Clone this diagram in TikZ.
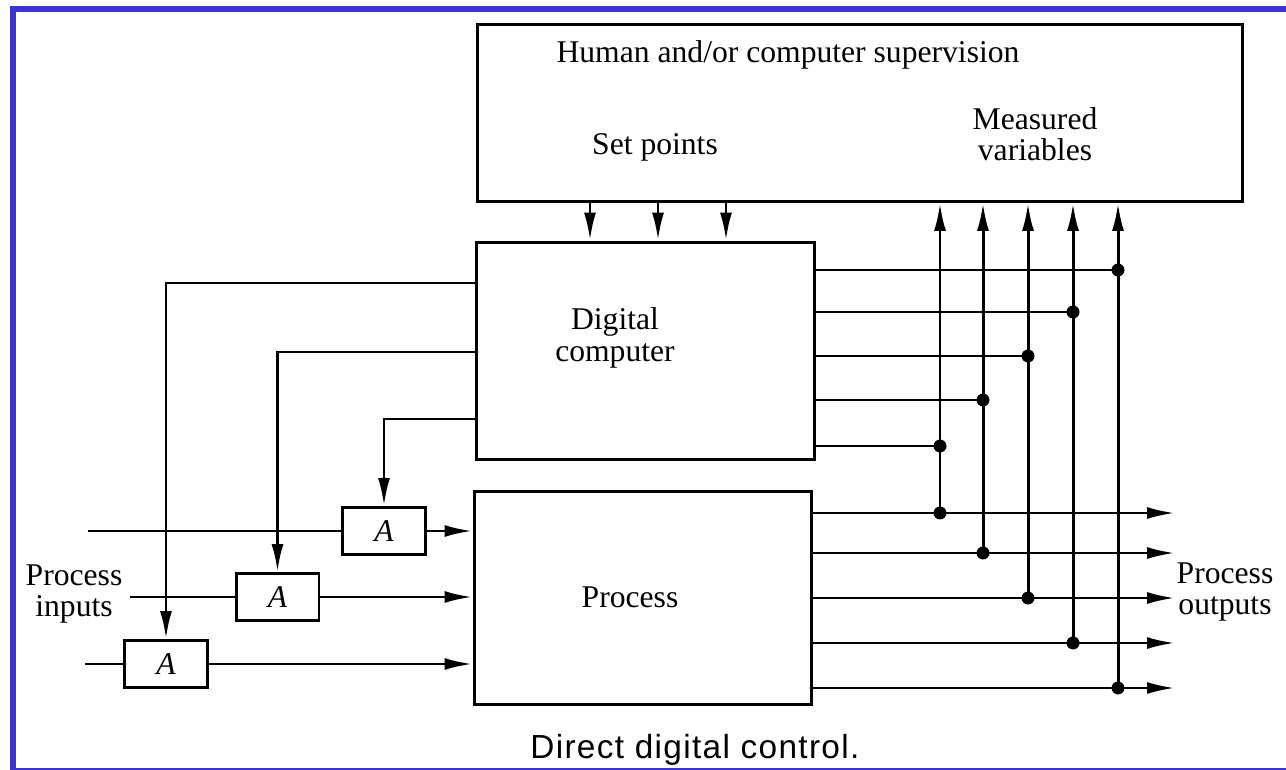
\documentclass[tikz,border=0pt]{standalone}
\usepackage{fontspec}
\setmainfont{Liberation Serif}
\newfontfamily\capfont[LetterSpace=4]{Liberation Sans}
\usetikzlibrary{arrows.meta}
\definecolor{frameblue}{RGB}{58,52,208}

\begin{document}
\begin{tikzpicture}[x=0.02cm,y=-0.02cm,
	block/.style={rectangle,draw,line width=1.7pt,inner sep=0pt},
	abox/.style={rectangle,draw,line width=1.7pt,minimum width=1.66cm,minimum height=0.94cm,inner sep=0pt,font=\fontsize{18}{19}\selectfont\itshape},
	txt/.style={font=\fontsize{18}{18}\selectfont,align=center,inner sep=0pt},
	wire/.style={line width=1.7pt},
	arr/.style={line width=1.7pt,-{Latex[length=0.56cm,width=0.24cm]}},
	dot/.style={circle,fill,inner sep=0pt,minimum size=0.26cm}
	]
	\useasboundingbox (0,0) rectangle (1286,770);
	\draw[frameblue,line width=0.12cm,line join=miter] (1290,9) -- (13,9) -- (13,772);
	\draw[frameblue,line width=0.06cm] (10,769) -- (1290,769);

	\node[block,minimum width=15.32cm,minimum height=3.54cm] (sup) at (860,113) {};
	\node[block,minimum width=6.78cm,minimum height=4.36cm] (comp) at (645.5,351) {};
	\node[block,minimum width=6.76cm,minimum height=4.28cm] (proc) at (643,598) {};

	\node[txt] (suplabel) at (788,55) {Human and/or computer supervision};
	\node[txt] (setpts) at (655,147) {Set points};
	\node[txt] (measvar) at (1035,134) {Measured\\variables};
	\node[txt] (complabel) at (615,338) {Digital\\computer};
	\node[txt] (proclabel) at (630,597) {Process};
	\node[txt] (inlabel) at (74,594) {Process\\inputs};
	\node[txt] (outlabel) at (1225,592) {Process\\outputs};
	\node[anchor=base west,inner sep=0pt,font=\capfont\fontsize{19}{19}\selectfont] (caption) at (530,758) {Direct digital control.};

	\node[abox] (a1) at (384,531) {A};
	\node[abox] (a2) at (277.5,597) {A};
	\node[abox] (a3) at (166,664) {A};

	\coordinate (in1) at (88,531);
	\coordinate (in2) at (130,597);
	\coordinate (in3) at (85,664);
	\draw[wire] (in1) -- (a1);
	\draw[wire] (in2) -- (a2);
	\draw[wire] (in3) -- (a3);
	\draw[arr] (a1) -- (a1 -| proc.west);
	\draw[arr] (a2) -- (a2 -| proc.west);
	\draw[arr] (a3) -- (a3 -| proc.west);

	\draw[arr] (comp.west |- 0,283) -| (a3);
	\draw[arr] (comp.west |- 0,352) -| (a2);
	\draw[arr] (comp.west |- 0,419) -| (a1);

	\draw[arr] (sup.south -| 590,0) -- (comp.north -| 590,0);
	\draw[arr] (sup.south -| 658,0) -- (comp.north -| 658,0);
	\draw[arr] (sup.south -| 726,0) -- (comp.north -| 726,0);

	\coordinate (c1) at (940,446);
	\coordinate (c2) at (983,400);
	\coordinate (c3) at (1028,356);
	\coordinate (c4) at (1073,312);
	\coordinate (c5) at (1118,270);
	\coordinate (p1) at (940,513);
	\coordinate (p2) at (983,553);
	\coordinate (p3) at (1028,598);
	\coordinate (p4) at (1073,643);
	\coordinate (p5) at (1118,688);
	\coordinate (o1) at (1175,513);
	\coordinate (o2) at (1175,553);
	\coordinate (o3) at (1175,598);
	\coordinate (o4) at (1175,643);
	\coordinate (o5) at (1175,688);

	\draw[wire] (comp.east |- c1) -- (c1);
	\draw[wire] (comp.east |- c2) -- (c2);
	\draw[wire] (comp.east |- c3) -- (c3);
	\draw[wire] (comp.east |- c4) -- (c4);
	\draw[wire] (comp.east |- c5) -- (c5);
	\draw[arr] (proc.east |- p1) -- (o1);
	\draw[arr] (proc.east |- p2) -- (o2);
	\draw[arr] (proc.east |- p3) -- (o3);
	\draw[arr] (proc.east |- p4) -- (o4);
	\draw[arr] (proc.east |- p5) -- (o5);
	\draw[arr] (p1) -- (p1 |- sup.south);
	\draw[arr] (p2) -- (p2 |- sup.south);
	\draw[arr] (p3) -- (p3 |- sup.south);
	\draw[arr] (p4) -- (p4 |- sup.south);
	\draw[arr] (p5) -- (p5 |- sup.south);

	\node[dot] (d1) at (c1) {};
	\node[dot] (d2) at (c2) {};
	\node[dot] (d3) at (c3) {};
	\node[dot] (d4) at (c4) {};
	\node[dot] (d5) at (c5) {};
	\node[dot] (e1) at (p1) {};
	\node[dot] (e2) at (p2) {};
	\node[dot] (e3) at (p3) {};
	\node[dot] (e4) at (p4) {};
	\node[dot] (e5) at (p5) {};
\end{tikzpicture}
\end{document}
